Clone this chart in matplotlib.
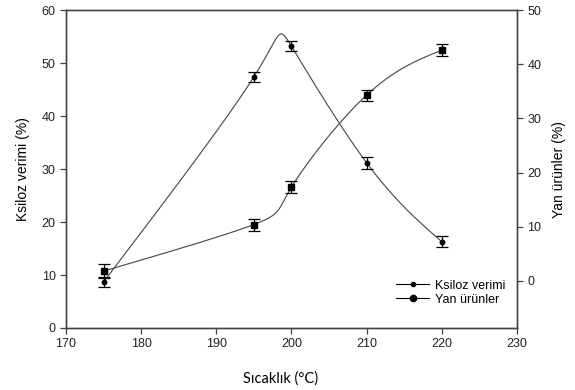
import numpy as np
import matplotlib.pyplot as plt

# Sıcaklık noktaları ve ölçülen değerler
sicaklik = [175, 195, 200, 210, 220]
ksiloz = [8.7, 47.4, 53.2, 31.2, 16.3]
ksiloz_hata = [1.0, 1.0, 1.0, 1.1, 1.0]
yan_urun = [1.8, 10.4, 17.3, 34.3, 42.6]
yan_hata = [1.3, 1.1, 1.1, 1.0, 1.1]


def natural(v, ts):
    # natural cubic spline of v over a uniform parameter 0..k-1
    v = np.asarray(v, float)
    k = len(v)
    A = np.zeros((k, k))
    b = np.zeros(k)
    A[0, 0] = A[-1, -1] = 1
    for i in range(1, k - 1):
        A[i, i - 1:i + 2] = [1, 4, 1]
        b[i] = 6 * (v[i + 1] - 2 * v[i] + v[i - 1])
    M = np.linalg.solve(A, b)
    i = np.minimum(np.floor(ts).astype(int), k - 2)
    s = ts - i
    return ((1 - s) * v[i] + s * v[i + 1]
            + M[i] * ((1 - s) ** 3 - (1 - s)) / 6
            + M[i + 1] * (s ** 3 - s) / 6)


def smooth(x, y, n=400):
    # parametric spline through the points
    ts = np.linspace(0, len(x) - 1, n)
    return natural(x, ts), natural(y, ts)


plt.rcParams['font.family'] = ['Liberation Sans', 'DejaVu Sans']
plt.rcParams['font.size'] = 9

fig = plt.figure(figsize=(5.75, 3.9), dpi=100)
ax = fig.add_axes([0.1148, 0.159, 0.784, 0.815])
ax2 = ax.twinx()

ax.set_xlim(170, 230)
ax.set_ylim(0, 60)
ax2.set_ylim(-8.7, 50)
ax.set_xticks(range(170, 231, 10))
ax.set_yticks(range(0, 61, 10))
ax2.set_yticks(range(0, 51, 10))

lc = '#444444'
xs, ys = smooth(sicaklik, ksiloz)
ax.plot(xs, ys, color=lc, lw=0.8)
ax.errorbar(sicaklik, ksiloz, yerr=ksiloz_hata, fmt='none', ecolor='black',
            elinewidth=0.9, capsize=4, capthick=0.9)
ax.plot(sicaklik, ksiloz, 'o', color='black', ms=3.2)

xs2, ys2 = smooth(sicaklik, yan_urun)
ax2.plot(xs2, ys2, color=lc, lw=0.8)
ax2.errorbar(sicaklik, yan_urun, yerr=yan_hata, fmt='none', ecolor='black',
             elinewidth=0.9, capsize=4, capthick=0.9)
ax2.plot(sicaklik, yan_urun, 's', color='black', ms=4.5)

for a in (ax, ax2):
    for s in a.spines.values():
        s.set_color('#444444')
        s.set_linewidth(1.0)
    a.tick_params(color='#444444', length=4, width=0.9, labelcolor='#222222', labelsize=9)

ax.set_xlabel('Sıcaklık (°C)', family=['Lato', 'DejaVu Sans'], fontsize=10.5, labelpad=15)
ax.xaxis.label.set_x(0.477)
ax.set_ylabel('Ksiloz verimi (%)', fontsize=10, labelpad=8)
ax2.set_ylabel('Yan ürünler (%)', fontsize=10, labelpad=8)

h1, = ax.plot([], [], '-o', color='black', ms=3, lw=0.8)
h2, = ax.plot([], [], '-o', color='black', ms=4.5, lw=0.8)
ax.legend([h1, h2], ['Ksiloz verimi', 'Yan ürünler'], loc='lower right',
          bbox_to_anchor=(1.0, 0.035), frameon=False, fontsize=9,
          handlelength=2.6, handletextpad=0.5, labelspacing=0.15)

fig.savefig('out.png', dpi=100)
